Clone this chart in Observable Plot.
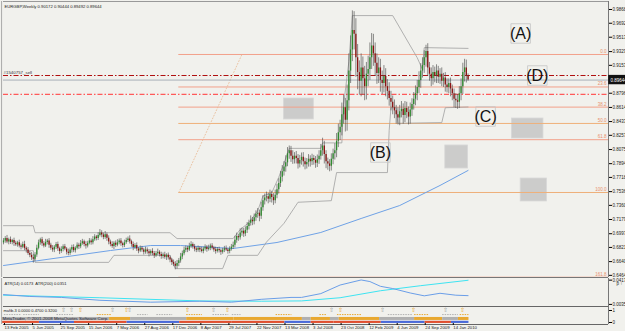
<!DOCTYPE html>
<html><head><meta charset="utf-8">
<script src="https://cdn.jsdelivr.net/npm/d3@7"></script>
<script src="https://cdn.jsdelivr.net/npm/@observablehq/plot@0.6"></script>
<style>
body{margin:0;background:#fff;}
#c{position:relative;width:625px;height:331px;background:#f1f1ed;overflow:hidden;font-family:"Liberation Sans",Arial,sans-serif;}
#c svg{position:absolute;left:0;}
</style></head><body><div id="c"></div>
<script>
// ---------- DATA ----------
const header = "EURGBP,Weekly 0.90172 0.90444 0.89492 0.89644";
const firstOpen = 0.6880;
const closes = [
0.6905,0.6935,0.6890,0.6920,0.6885,0.6910,0.6875,0.6855,0.6880,0.6840,
0.6825,0.6860,0.6810,0.6790,0.6745,0.6720,0.6690,0.6670,0.6725,0.6810,
0.6880,0.6920,0.6870,0.6840,0.6885,0.6905,0.6850,0.6810,0.6790,0.6825,
0.6860,0.6805,0.6770,0.6795,0.6830,0.6800,0.6760,0.6745,0.6790,0.6820,
0.6780,0.6810,0.6850,0.6830,0.6870,0.6895,0.6860,0.6840,0.6875,0.6905,
0.6880,0.6920,0.6955,0.6935,0.6975,0.7005,0.6980,0.6950,0.6985,0.6940,
0.6890,0.6860,0.6835,0.6875,0.6850,0.6880,0.6905,0.6870,0.6845,0.6880,
0.6910,0.6930,0.6895,0.6860,0.6820,0.6845,0.6800,0.6775,0.6810,0.6790,
0.6760,0.6790,0.6765,0.6740,0.6770,0.6745,0.6715,0.6740,0.6760,0.6730,
0.6705,0.6725,0.6695,0.6720,0.6690,0.6660,0.6630,0.6605,0.6580,0.6615,
0.6650,0.6700,0.6740,0.6785,0.6810,0.6790,0.6835,0.6860,0.6830,0.6800,
0.6785,0.6810,0.6790,0.6770,0.6800,0.6825,0.6795,0.6810,0.6840,0.6815,
0.6790,0.6770,0.6795,0.6780,0.6760,0.6785,0.6805,0.6790,0.6770,0.6800,
0.6825,0.6850,0.6915,0.6960,0.6945,0.7005,0.7030,0.6995,0.7040,0.7090,
0.7130,0.7170,0.7150,0.7200,0.7245,0.7260,0.7220,0.7330,0.7420,0.7455,
0.7470,0.7440,0.7500,0.7460,0.7420,0.7490,0.7560,0.7640,0.7720,0.7790,
0.7850,0.7905,0.8020,0.8060,0.7990,0.7945,0.7990,0.7960,0.7890,0.7935,
0.7975,0.7920,0.7880,0.7910,0.7950,0.7920,0.7960,0.7935,0.7900,0.7945,
0.7990,0.8060,0.8120,0.8010,0.7920,0.7890,0.7860,0.7950,0.8020,0.8060,
0.8180,0.8290,0.8360,0.8520,0.8610,0.8450,0.8700,0.9080,0.9350,0.9600,
0.9550,0.9250,0.9060,0.8950,0.9120,0.8980,0.8880,0.9040,0.9100,0.9250,
0.9400,0.9300,0.9180,0.9050,0.9120,0.8960,0.8920,0.9010,0.8880,0.8820,
0.8730,0.8680,0.8610,0.8570,0.8520,0.8480,0.8560,0.8590,0.8510,0.8600,
0.8550,0.8490,0.8580,0.8650,0.8720,0.8790,0.8870,0.8960,0.9080,0.9150,
0.9250,0.9330,0.9120,0.9040,0.8980,0.9060,0.9020,0.9080,0.9000,0.9040,
0.8950,0.8990,0.8900,0.8870,0.8920,0.8850,0.8790,0.8720,0.8700,0.8680,
0.8790,0.8880,0.9060,0.9120,0.9017,0.8964];
// upper / lower wick lengths in pips
const upW = [
30,25,40,20,35,15,30,25,20,35, 25,30,40,20,30,25,35,45,30,40,
35,20,30,25,40,20,30,25,35,20, 25,30,20,35,25,30,20,40,25,30,
35,20,30,25,40,30,20,35,25,30, 25,40,30,20,35,45,30,25,40,20,
30,25,35,20,30,40,25,30,20,35, 30,25,40,20,30,25,35,20,30,25,
20,35,25,30,20,35,25,30,40,20, 30,25,35,20,30,25,20,30,35,40,
30,45,35,40,30,25,40,35,20,30, 25,30,20,35,25,30,20,40,25,30,
20,35,25,30,20,25,30,35,20,30, 35,40,50,45,30,55,40,35,45,50,
40,55,35,50,45,60,40,70,65,50, 60,45,55,40,50,65,70,60,75,80,
70,90,80,60,55,70,45,60,50,65, 55,60,45,50,60,45,55,40,50,60,
70,80,100,60,50,45,55,70,60,90, 100,110,90,150,160,120,200,220,180,250,
240,200,170,150,180,140,160,150,170,190, 160,150,140,120,130,110,120,140,100,90,
110,90,80,100,70,90,80,100,70,90, 80,70,90,75,85,100,90,110,95,100,
90,80,100,70,80,90,70,80,60,70, 80,60,70,80,60,70,50,60,70,80,
90,100,120,110,100,27];
const dnW = [
25,30,20,35,25,30,40,20,30,25, 35,20,30,40,25,30,35,50,25,30,
20,30,35,25,20,30,40,25,30,35, 30,35,40,25,30,20,35,30,25,40,
25,30,20,35,25,20,30,40,25,20, 30,25,20,30,25,20,35,30,25,40,
35,30,25,40,30,20,25,35,30,25, 20,25,30,35,40,25,30,35,20,30,
35,25,30,40,25,30,35,20,25,30, 35,30,25,40,30,35,40,30,45,35,
40,30,35,25,30,35,20,25,30,35, 30,25,35,20,30,25,35,20,30,25,
30,35,20,30,40,25,30,20,35,30, 25,30,35,40,45,30,40,45,35,40,
45,35,50,40,45,50,70,40,45,55, 50,60,45,70,60,40,45,55,50,60,
55,65,50,70,80,60,55,70,65,50, 60,70,65,55,60,70,50,60,65,55,
60,50,70,120,90,80,70,60,70,80, 90,80,100,110,120,150,140,130,160,150,
200,250,220,180,200,210,180,170,160,140, 150,160,170,140,130,150,140,120,130,110,
100,110,90,100,120,90,100,80,110,90, 80,100,90,80,70,85,90,80,100,90,
100,120,110,90,100,80,90,100,80,90, 70,80,90,70,80,100,90,110,100,90,
80,90,100,120,90,15];

const priceTicks = [0.98680,0.96920,0.95130,0.93290,0.91530,0.87960,0.86140,0.84330,0.82570,0.80750,0.78940,0.77180,0.75360,0.73600,0.71790,0.69970,0.68215,0.66400,0.64640];
const lastPrice = 0.89644;

// Donchian-style channel (bar index, price)
const upperCh = [[0,0.7100],[17,0.7100],[18,0.7010],[95,0.7010],[99,0.6935],[131,0.6935],[135,0.7050],[140,0.7140],[145,0.7290],[148,0.7480],[153,0.7520],[157,0.7720],[160,0.7900],[163,0.8090],[181,0.8090],[182,0.8160],[193,0.8160],[194,0.8650],[197,0.9200],[199,0.9790],[222,0.9790],[236,0.9250],[239,0.9100],[240,0.9380],[265,0.9370]];
const lowerCh = [[0,0.6780],[17,0.6780],[18,0.6630],[60,0.6630],[63,0.6720],[95,0.6720],[98,0.6550],[125,0.6550],[128,0.6720],[145,0.6720],[150,0.6890],[160,0.7130],[168,0.7400],[187,0.7420],[190,0.7780],[219,0.7780],[220,0.8320],[221,0.8610],[224,0.8610],[225,0.8410],[250,0.8420],[252,0.8610],[265,0.8620]];
// long moving average
const maLine = [[0,0.6590],[61,0.6782],[84,0.6846],[101,0.6846],[131,0.6808],[156,0.6885],[181,0.7013],[204,0.7192],[226,0.7358],[249,0.7615],[265,0.7807]];

// Fibonacci retracement
const fibLabels = ["0.0","23.6","38.2","50.0","61.8","100.0","161.8"];
const fibPrices = [0.9292,0.8876,0.8618,0.8409,0.8201,0.7525,0.6440];
const fibStart = 100;
const fibDiag = [[100,0.7525],[136,0.9292]];

// order lines
const orderLabel = "#1540757_sell";
const orderPrice = 0.9023;
const stopPrice = 0.8780;

// annotations
const noteText = ["(A)","(D)","(C)","(B)"];
const noteX = [295,304.5,275,215];
const noteY = [0.9561,0.9023,0.8498,0.8037];
const boxes = [[160,177,0.8460,0.8728],[252,265,0.7832,0.8127],[290,308,0.8216,0.8472],[295,310,0.7410,0.7704]];

// ATR panel
const atrTitle = "ATR(14) 0.0173  ATR(200) 0.0351";
const atrTicks = [0.0417,0.0035];
const atr14 = [[0,0.0190],[15,0.0160],[33,0.0145],[55,0.0100],[84,0.0070],[112,0.0085],[130,0.0070],[147,0.0115],[164,0.0145],[170,0.0145],[181,0.0205],[192,0.0340],[204,0.0420],[209,0.0395],[215,0.0320],[222,0.0285],[232,0.0215],[240,0.0170],[249,0.0210],[258,0.0180],[265,0.0173]];
const atr200 = [[0,0.0180],[55,0.0140],[112,0.0090],[147,0.0085],[170,0.0090],[192,0.0140],[215,0.0250],[238,0.0330],[265,0.0415]];

// mafib panel
const mafibTitle = "mafib-3 0.0000 0.4700 0.3200";
const arrowsGray = [34,39,62,72,120,187,216,252];
const arrowsOrange = [44,70,105,128,192,234,262];
const segTop = [[1,10,"#b0b0b0"],[12,20,"#b0b0b0"],[31,40,"#b0b0b0"],[54,61,"#e8a830"],[77,82,"#b0b0b0"],[88,96,"#b0b0b0"],[105,113,"#e8a830"],[120,128,"#b0b0b0"],[131,135,"#b0b0b0"],[156,164,"#e8a830"],[181,184,"#e8a830"],[191,204,"#e8a830"],[220,233,"#b0b0b0"],[235,242,"#e8a830"],[251,259,"#b0b0b0"],[261,265,"#e8a830"]];
const segMid = [[0,19,"#b0b0b0"],[20,60,"#b0b0b0"],[61,72,"#e8a830"],[73,104,"#b0b0b0"],[105,131,"#e8a830"],[132,170,"#e8a830"],[171,175,"#b0b0b0"],[176,186,"#e8a830"],[187,191,"#b0b0b0"],[192,214,"#e8a830"],[215,234,"#b0b0b0"],[235,250,"#e8a830"],[251,259,"#b0b0b0"],[260,265,"#e8a830"]];
const segBot = [[0,20,"#e05030"],[21,40,"#4a6ad8"],[41,70,"#e05030"],[71,100,"#4a6ad8"],[101,130,"#e05030"],[131,160,"#e05030"],[161,175,"#4a6ad8"],[176,188,"#e05030"],[189,215,"#e05030"],[216,240,"#4a6ad8"],[241,255,"#e05030"],[256,265,"#4a6ad8"]];
const copyright = "MetaTrader, \u00a9 2001-2008 MetaQuotes Software Corp.";

// x axis
const xTickIdx = [0,16,32,48,64,80,96,112,128,144,160,176,192,208,224,240,256];
const xTickLab = ["13 Feb 2005","5 Jun 2005","25 Sep 2005","15 Jan 2006","7 May 2006","27 Aug 2006","17 Dec 2006","8 Apr 2007","29 Jul 2007","22 Nov 2007","13 Mar 2008","3 Jul 2008","23 Oct 2008","12 Feb 2009","4 Jun 2009","24 Sep 2009","14 Jan 2010"];

// ---------- BUILD ----------
const XD = [0, 345.1];
const bars = closes.map((c,i)=>{const o = i? closes[i-1] : firstOpen; return {i,o,c,h:Math.max(o,c)+upW[i]/1e4,l:Math.min(o,c)-dnW[i]/1e4};});
const pts = a => a.map(([i,p])=>({i,p}));
const fib = fibLabels.map((l,k)=>({l,p:fibPrices[k]}));
const notes = noteText.map((t,k)=>({t,x:noteX[k],y:noteY[k]}));
const boxD = boxes.map(([a,b,c,d])=>({a,b,c,d}));
const root = document.getElementById("c");
const font = "Liberation Sans, Arial, sans-serif";

function place(svg, top){ svg.style.top = top+"px"; root.appendChild(svg); }

const main = Plot.plot({
  width:625, height:278, marginLeft:3, marginRight:17, marginTop:1, marginBottom:1,
  x:{domain:XD, axis:null},
  y:{domain:[0.64365,0.99704], axis:null},
  style:{background:"transparent", overflow:"visible", fontFamily:font},
  marks:[
    Plot.rect(boxD,{x1:"a",x2:"b",y1:"c",y2:"d",fill:"#b8b8b8",fillOpacity:0.65,stroke:"#d8d8d8",strokeWidth:0.8}),
    Plot.ruleY(fib,{y:"p",x1:fibStart,x2:XD[1],stroke:d=>(d.l==="50.0"||d.l==="100.0")?"#eeb07a":"#f2a08a",strokeWidth:1}),
    Plot.text(fib,{y:"p",x:XD[1],text:"l",textAnchor:"end",dx:-2,dy:-3,fontSize:4.5,fill:"#e8906a"}),
    Plot.line(pts(fibDiag),{x:"i",y:"p",stroke:"#e8b890",strokeWidth:0.8,strokeDasharray:"1,2"}),
    Plot.ruleY([lastPrice],{stroke:"#a8b0b8",strokeWidth:1}),
    Plot.ruleY([orderPrice],{stroke:"#b01010",strokeWidth:1.2,strokeDasharray:"5,2,1.5,2"}),
    Plot.ruleY([stopPrice],{stroke:"#ff5a5a",strokeWidth:1.2,strokeDasharray:"5,2,1.5,2"}),
    Plot.text([orderLabel],{x:0,y:orderPrice,text:d=>d,textAnchor:"start",dx:0,dy:-3,fontSize:4.4,fill:"#333"}),
    Plot.line(pts(maLine),{x:"i",y:"p",stroke:"#6fa2e6",strokeWidth:1}),
    Plot.line(pts(upperCh),{x:"i",y:"p",stroke:"#a0a0a0",strokeWidth:0.8}),
    Plot.line(pts(lowerCh),{x:"i",y:"p",stroke:"#a0a0a0",strokeWidth:0.8}),
    Plot.ruleX(bars,{x:"i",y1:"l",y2:"h",stroke:"#404040",strokeWidth:0.6}),
    Plot.ruleX(bars,{x:"i",y1:"o",y2:"c",stroke:d=>d.c>=d.o?"#2e8b2e":"#8b1414",strokeWidth:1.3}),
    Plot.dot(notes,{x:"x",y:"y",symbol:"square",r:11,stroke:"#c4c4c4",strokeWidth:0.8,fill:"none"}),
    Plot.text(notes,{x:"x",y:"y",text:"t",fontSize:16,fill:"#111",fontFamily:font}),
    Plot.ruleX([XD[1]],{stroke:"#777",strokeWidth:1}),
    Plot.ruleX([-1.1],{stroke:"#aaa",strokeWidth:1}),
    Plot.ruleY([0.64365],{stroke:"#777",strokeWidth:1}),
    Plot.ruleY([0.99704],{stroke:"#999",strokeWidth:1}),
    Plot.axisY(priceTicks,{anchor:"right",tickSize:3,tickPadding:1,fontSize:4.5,tickFormat:d=>d.toFixed(5),fill:"#222"}),
    Plot.rect([lastPrice],{x1:345.2,x2:360,y1:d=>d-0.006,y2:d=>d+0.006,fill:"#111"}),
    Plot.text([lastPrice],{x:345.1,y:d=>d,text:d=>d.toFixed(5),textAnchor:"start",dx:2,fontSize:4.5,fill:"#fff"}),
    Plot.text([header],{frameAnchor:"top-left",text:d=>d,dx:1,dy:4,fontSize:4.2,fill:"#222"})
  ]
});
place(main,0);

const atr = Plot.plot({
  width:625, height:28, marginLeft:3, marginRight:17, marginTop:0, marginBottom:0,
  x:{domain:XD, axis:null},
  y:{domain:[0.0002,0.0443], axis:null},
  style:{background:"transparent", overflow:"visible", fontFamily:font},
  marks:[
    Plot.line(pts(atr200),{x:"i",y:"p",stroke:"#3ee4f2",strokeWidth:1}),
    Plot.line(pts(atr14),{x:"i",y:"p",stroke:"#6a9ee8",strokeWidth:1}),
    Plot.ruleX([XD[1]],{stroke:"#777"}),
    Plot.ruleX([-1.1],{stroke:"#aaa"}),
    Plot.ruleY([0.0002],{stroke:"#666"}),
    Plot.axisY(atrTicks,{anchor:"right",tickSize:3,tickPadding:1,fontSize:4.5,tickFormat:d=>d.toFixed(4),fill:"#222"}),
    Plot.text([atrTitle],{frameAnchor:"top-left",text:d=>d,dx:1,dy:4,fontSize:4.1,fill:"#222"})
  ]
});
place(atr,278);

const mf = Plot.plot({
  width:625, height:18, marginLeft:3, marginRight:17, marginTop:0, marginBottom:0,
  x:{domain:XD, axis:null},
  y:{domain:[-0.167,1.333], axis:null},
  style:{background:"transparent", overflow:"visible", fontFamily:font},
  marks:[
    Plot.ruleY(segTop,{y:0.66,x1:d=>d[0]-0.5,x2:d=>d[1]+0.5,stroke:d=>d[2],strokeWidth:1,strokeDasharray:"1.5,1"}),
    Plot.rect(segMid,{x1:d=>d[0]-0.5,x2:d=>d[1]+0.5,y1:0.17,y2:0.42,fill:d=>d[2]}),
    Plot.rect(segBot,{x1:d=>d[0]-0.5,x2:d=>d[1]+0.5,y1:-0.08,y2:0.1,fill:d=>d[2]}),
    Plot.text(arrowsGray,{x:d=>d,y:1.0,text:()=>"\u21e7",fontSize:5.5,fill:"#9a9a9a"}),
    Plot.text(arrowsOrange,{x:d=>d,y:1.0,text:()=>"\u21e7",fontSize:5.5,fill:"#e8a020"}),
    Plot.ruleX([XD[1]],{stroke:"#777"}),
    Plot.ruleX([-1.1],{stroke:"#aaa"}),
    Plot.ruleY([-0.167],{stroke:"#666"}),
    Plot.ruleY([1.333],{stroke:"#666"}),
    Plot.axisY([0,1],{anchor:"right",tickSize:3,tickPadding:1,fontSize:4.5,fill:"#222"}),
    Plot.text([mafibTitle],{x:0,y:0.95,text:d=>d,textAnchor:"start",dx:0,fontSize:4,fill:"#222"}),
    Plot.text([copyright],{x:0,y:0.3,text:d=>d,textAnchor:"start",dx:-1,fontSize:4.4,fill:"#223"})
  ]
});
place(mf,306);

const xa = Plot.plot({
  width:625, height:8, marginLeft:3, marginRight:17, marginTop:0, marginBottom:8,
  x:{domain:XD, axis:null},
  style:{background:"transparent", overflow:"visible", fontFamily:font},
  marks:[
    Plot.axisX(xTickIdx,{anchor:"bottom",tickSize:2,tickPadding:0,fontSize:4.3,textAnchor:"start",dx:1,tickFormat:(d,k)=>xTickLab[k],fill:"#222"})
  ]
});
place(xa,323);
</script>
</body></html>
